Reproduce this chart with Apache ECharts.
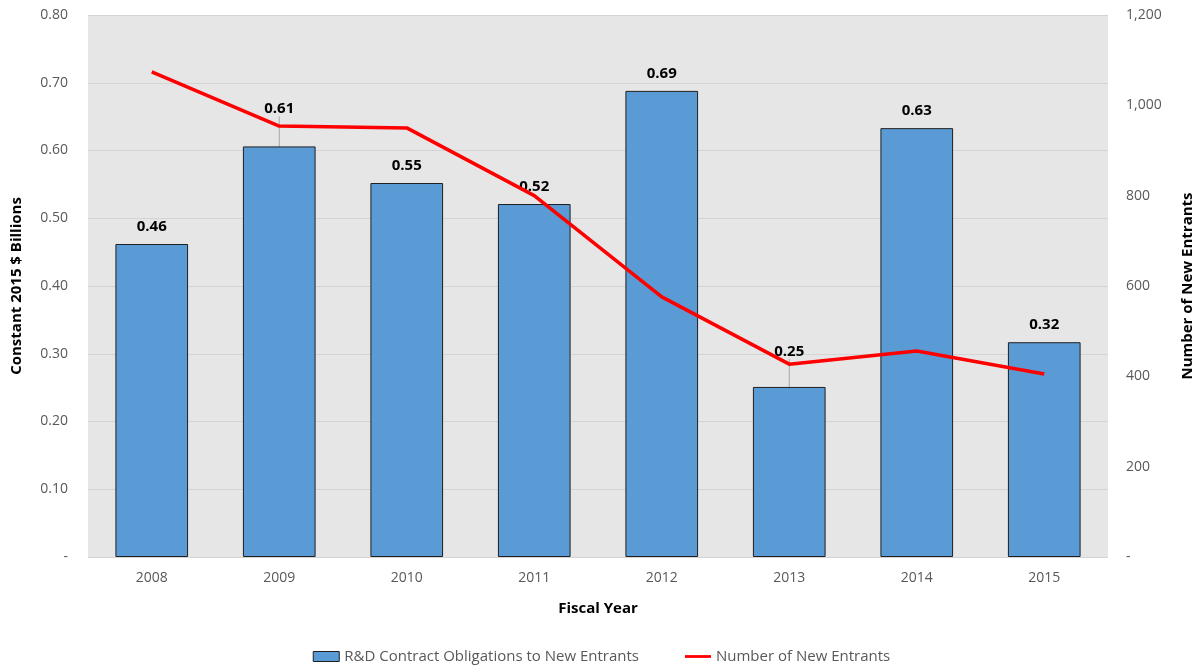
<!DOCTYPE html>
<html>
<head>
<meta charset="utf-8">
<script src="https://cdn.jsdelivr.net/npm/echarts@6/dist/echarts.min.js"></script>
<style>html,body{margin:0;padding:0;background:#fff}#c{width:1203px;height:669px}</style>
</head>
<body>
<div id="c"></div>
<script>
const years = ['2008','2009','2010','2011','2012','2013','2014','2015'];
const obligations = [0.462, 0.606, 0.552, 0.521, 0.688, 0.251, 0.633, 0.317];
const entrants = [1074, 954, 950, 800, 576, 427, 456, 405];
const leftTicks = [0, 0.1, 0.2, 0.3, 0.4, 0.5, 0.6, 0.7, 0.8];
const rightTicks = [0, 200, 400, 600, 800, 1000, 1200];
const movedLabels = {1: -20, 5: -18};

const font = '"Open Sans", "Noto Sans", sans-serif';
const barData = obligations.map((v, i) => ({
  value: v,
  labelLine: {show: movedLabels[i] !== undefined}
}));

const chart = echarts.init(document.getElementById('c'));
chart.setOption({
  animation: false,
  textStyle: {fontFamily: font},
  grid: {left: 88, right: 94, top: 15, bottom: 112, show: true, backgroundColor: '#e6e6e6', borderWidth: 0},
  legend: {
    bottom: 0, left: 'center', itemGap: 46, itemWidth: 26, itemHeight: 10,
    textStyle: {fontFamily: font, fontSize: 15, color: '#595959'},
    data: [
      {name: 'R&D Contract Obligations to New Entrants', icon: 'rect', itemStyle: {color: '#5b9bd5', borderColor: '#1f1f1f', borderWidth: 1}},
      {name: 'Number of New Entrants', icon: 'path://M0,0 L37,0 L37,4 L0,4 Z', itemWidth: 37, itemHeight: 4, itemStyle: {color: '#ff0000'}}
    ]
  },
  xAxis: {
    type: 'category', data: years,
    name: 'Fiscal Year', nameLocation: 'middle', nameGap: 44,
    nameTextStyle: {fontFamily: font, fontSize: 15, fontWeight: 'bold', color: '#000'},
    axisLine: {show: false}, axisTick: {show: false},
    axisLabel: {fontSize: 14, color: '#595959', margin: 14}
  },
  yAxis: [{
    type: 'value', min: 0, max: 0.8, interval: 0.1,
    name: 'Constant 2015 $ Billions', nameLocation: 'middle', nameGap: 64, nameRotate: 90,
    nameTextStyle: {fontFamily: font, fontSize: 15, fontWeight: 'bold', color: '#000'},
    axisLine: {show: false}, axisTick: {show: false},
    axisLabel: {fontSize: 14, color: '#595959', margin: 20,
      formatter: v => { const t = leftTicks.find(x => Math.abs(x - v) < 1e-9); return t === 0 ? '-' : (t !== undefined ? t.toFixed(2) : ''); }},
    splitLine: {lineStyle: {color: '#d4d4d4', width: 1}}
  }, {
    type: 'value', min: 0, max: 1200, interval: 200,
    name: 'Number of New Entrants', nameLocation: 'middle', nameGap: 72, nameRotate: 90,
    nameTextStyle: {fontFamily: font, fontSize: 15, fontWeight: 'bold', color: '#000'},
    axisLine: {show: false}, axisTick: {show: false},
    axisLabel: {fontSize: 14, color: '#595959', margin: 18,
      formatter: v => { const t = rightTicks.find(x => x === v); return t === 0 ? '-' : (t !== undefined ? t.toLocaleString('en-US') : ''); }},
    splitLine: {show: false}
  }],
  series: [{
    name: 'R&D Contract Obligations to New Entrants',
    type: 'bar', yAxisIndex: 0, data: barData, barWidth: '57%',
    itemStyle: {color: '#5b9bd5', borderColor: '#1f1f1f', borderWidth: 1},
    label: {show: true, position: 'top', distance: 10, fontSize: 15, fontWeight: 'bold', color: '#000', fontFamily: font,
      formatter: p => p.value.toFixed(2)},
    labelLine: {show: false, lineStyle: {color: '#a6a6a6', width: 1}},
    labelLayout: p => (movedLabels[p.dataIndex] !== undefined ? {dy: movedLabels[p.dataIndex]} : {}),
    z: 2
  }, {
    name: 'Number of New Entrants',
    type: 'line', yAxisIndex: 1, data: entrants,
    showSymbol: false, symbol: 'none',
    lineStyle: {color: '#ff0000', width: 3.5},
    itemStyle: {color: '#ff0000'},
    z: 3
  }]
});
</script>
</body>
</html>
